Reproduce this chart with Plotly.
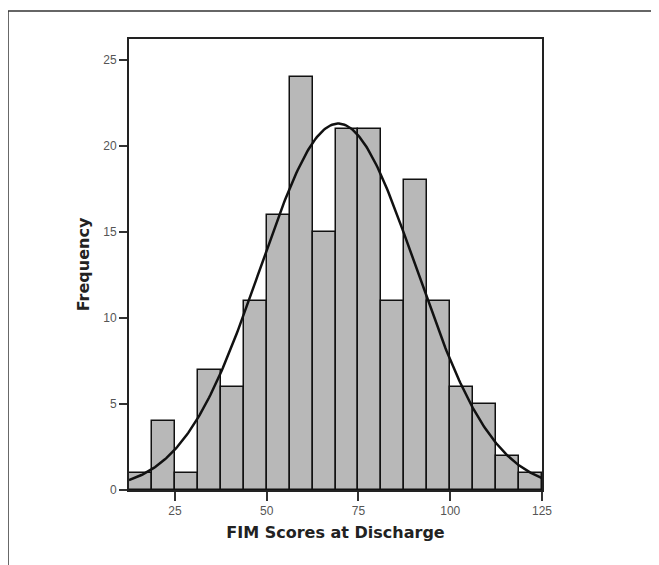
import numpy as np
import plotly.graph_objects as go

# Data
bin_start = 12.5
bin_width = 6.25
counts = [1, 4, 1, 7, 6, 11, 16, 24, 15, 21, 21, 11, 18, 11, 6, 5, 2, 1]
fit_mean = 69.5
fit_sd = 21.2
x_ticks = [25, 50, 75, 100, 125]
y_ticks = [0, 5, 10, 15, 20, 25]
x_title = "FIM Scores at Discharge"
y_title = "Frequency"

n_total = sum(counts)
centers = [bin_start + bin_width * (i + 0.5) for i in range(len(counts))]
x_end = bin_start + bin_width * len(counts)

xc = np.linspace(bin_start, x_end, 300)
yc = n_total * bin_width / (fit_sd * np.sqrt(2 * np.pi)) * np.exp(-0.5 * ((xc - fit_mean) / fit_sd) ** 2)

fig = go.Figure()
fig.add_trace(go.Bar(
    x=centers, y=counts, width=bin_width,
    marker=dict(color="#b8b8b8", line=dict(color="#111111", width=1.5)),
    showlegend=False, hoverinfo="x+y",
))
fig.add_trace(go.Scatter(
    x=xc, y=yc, mode="lines",
    line=dict(color="#111111", width=2.5),
    showlegend=False,
))

fig.update_layout(
    width=659, height=565,
    margin=dict(l=121, r=125, t=31, b=83),
    paper_bgcolor="white", plot_bgcolor="white",
    bargap=0,
    font=dict(family="DejaVu Sans, sans-serif", color="#222222"),
    xaxis=dict(
        range=[bin_start, x_end], tickvals=x_ticks, ticks="outside", ticklen=9,
        tickwidth=1.5, tickcolor="#333", showgrid=False, zeroline=False,
        showline=True, linecolor="#222", linewidth=2, mirror=True,
        tickfont=dict(size=12, color="#555", family="Liberation Sans, Arial, sans-serif"),
        title=dict(text="<b>" + x_title + "</b>", font=dict(size=16, color="#222"), standoff=9),
    ),
    yaxis=dict(
        range=[0, 26.2], tickvals=y_ticks, ticks="outside", ticklen=8,
        tickwidth=1.5, tickcolor="#333", showgrid=False, zeroline=False,
        showline=True, linecolor="#222", linewidth=2, mirror=True,
        tickfont=dict(size=12, color="#555", family="Liberation Sans, Arial, sans-serif"),
        title=dict(text="<b>" + y_title + "</b>", font=dict(size=16, color="#222"), standoff=10),
    ),
    shapes=[
        dict(type="line", xref="paper", yref="paper", x0=-0.293, x1=1.3, y0=1.062, y1=1.062,
             line=dict(color="#333", width=1.5)),
        dict(type="line", xref="paper", yref="paper", x0=-0.293, x1=-0.293, y0=1.062, y1=-0.2,
             line=dict(color="#333", width=1.5)),
    ],
)

fig.write_html("out.html")
